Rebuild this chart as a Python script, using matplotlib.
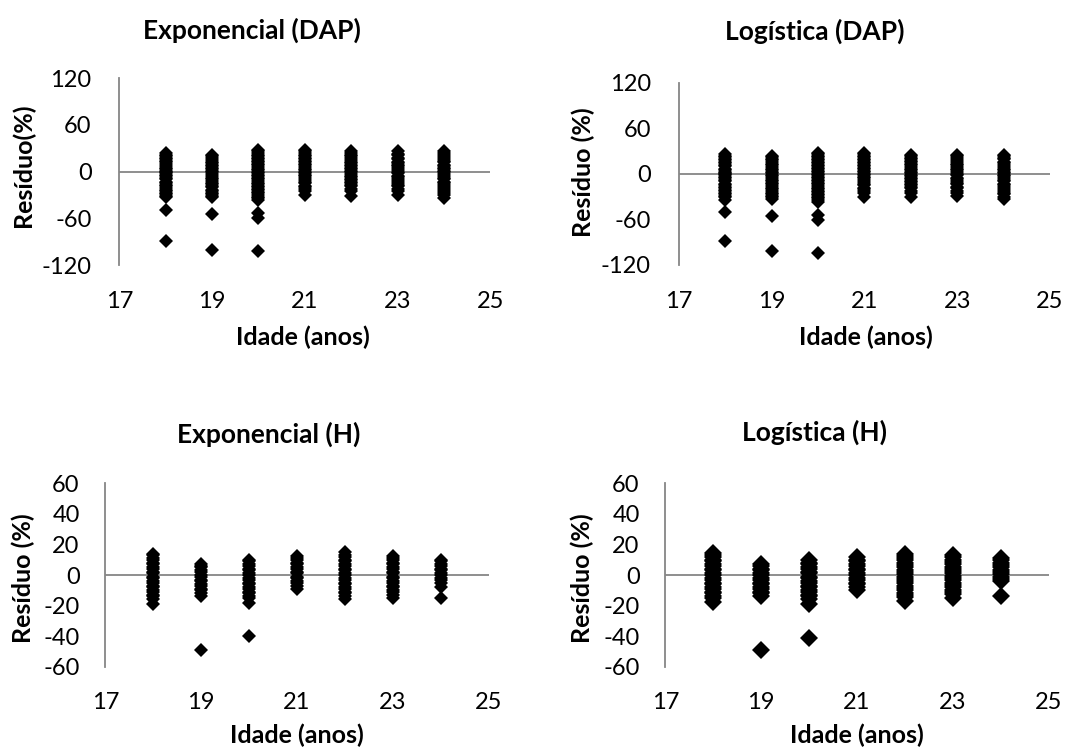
import matplotlib
matplotlib.use("Agg")
import matplotlib.pyplot as plt

plt.rcParams['font.family'] = ['Lato', 'DejaVu Sans']
plt.rcParams['axes.unicode_minus'] = False

ages = [18, 19, 20, 21, 22, 23, 24]

# residuals (%) per age
exp_dap = [
    [24, 22, 20, 18, 16, 14, 12, 10, 7, 5, 3, 1, 0, -2, -4, -6, -8, -10, -13, -15, -17, -19, -21, -23, -25, -27, -29, -31, -33, -49, -89],
    [22, 20, 18, 15, 13, 11, 9, 7, 5, 3, 1, -1, -3, -5, -8, -10, -12, -14, -16, -18, -20, -23, -25, -27, -29, -31, -33, -55, -101],
    [28, 26, 24, 22, 20, 18, 16, 14, 12, 10, 8, 6, 4, 2, 0, -2, -4, -6, -8, -10, -12, -14, -16, -18, -20, -22, -24, -26, -28, -30, -32, -34, -37, -53, -59, -102],
    [28, 26, 24, 22, 20, 18, 16, 14, 12, 10, 8, 6, 4, 2, 0, -2, -4, -6, -8, -11, -13, -15, -18, -20, -22, -25, -30],
    [26, 24, 22, 20, 17, 15, 13, 11, 9, 7, 5, 3, 1, -1, -3, -5, -7, -9, -11, -13, -15, -17, -19, -22, -25, -31],
    [26, 23, 21, 18, 16, 13, 11, 9, 7, 5, 2, 0, -2, -5, -7, -9, -12, -14, -17, -19, -22, -25, -30],
    [26, 24, 21, 19, 16, 14, 12, 9, 7, 5, 3, 1, -1, -3, -6, -8, -10, -13, -15, -17, -20, -22, -25, -27, -30, -34],
]

log_dap = [
    [26, 24, 22, 20, 18, 16, 14, 12, 10, 7, 5, 3, 1, 0, -2, -4, -6, -8, -10, -13, -15, -17, -19, -21, -23, -25, -27, -29, -31, -34, -50, -88],
    [24, 22, 20, 18, 15, 13, 11, 9, 7, 5, 3, 1, -1, -3, -5, -8, -10, -12, -14, -16, -18, -20, -23, -25, -27, -29, -31, -33, -55, -102],
    [28, 26, 24, 22, 20, 18, 16, 14, 12, 10, 8, 6, 4, 2, 0, -2, -4, -6, -8, -10, -12, -14, -16, -18, -20, -22, -24, -26, -28, -30, -32, -34, -37, -54, -61, -104],
    [28, 26, 24, 22, 20, 18, 16, 14, 12, 10, 8, 6, 4, 2, 0, -2, -4, -6, -8, -11, -13, -15, -18, -20, -22, -25, -30],
    [25, 23, 21, 19, 17, 15, 13, 11, 9, 7, 5, 3, 1, -1, -3, -5, -7, -9, -11, -13, -15, -17, -19, -22, -25, -31],
    [25, 23, 21, 18, 16, 13, 11, 9, 7, 5, 2, 0, -2, -5, -7, -9, -12, -14, -17, -19, -22, -25, -29],
    [25, 23, 21, 19, 16, 14, 12, 9, 7, 5, 3, 1, -1, -3, -6, -8, -10, -13, -15, -17, -20, -22, -25, -27, -30, -33],
]

exp_h = [
    [14, 13, 11, 10, 8, 7, 5, 4, 2, 1, -1, -2, -4, -5, -7, -8, -10, -11, -13, -14, -16, -19],
    [7.5, 6, 5, 3, 2, 0, -1, -3, -4, -6, -7, -9, -10, -12, -14, -49],
    [10, 9, 7, 6, 4, 3, 1, 0, -2, -3, -5, -6, -8, -9, -11, -12, -14, -15, -18, -40],
    [12.5, 11, 10, 8, 7, 5, 4, 2, 1, -1, -2, -4, -5, -7, -9],
    [15, 13, 12, 10, 9, 7, 6, 4, 3, 1, 0, -2, -3, -5, -6, -8, -9, -11, -12, -14, -16],
    [12.5, 11, 10, 8, 7, 5, 4, 2, 1, -1, -2, -4, -5, -7, -8, -10, -11, -13, -15],
    [10, 9, 7, 6, 4, 3, 1, 0, -2, -3, -5, -8, -15],
]

log_h = [
    [14.5, 13, 12, 10, 9, 7, 6, 4, 3, 1, 0, -2, -3, -5, -6, -8, -9, -11, -12, -14, -15, -17.5],
    [7, 6, 4, 3, 1, 0, -2, -3, -5, -6, -8, -9, -11, -12, -14, -49],
    [9.5, 8, 7, 5, 4, 2, 1, -1, -2, -4, -5, -7, -8, -10, -11, -13, -14, -16, -19, -41],
    [11.5, 10, 9, 7, 6, 4, 3, 1, 0, -2, -3, -5, -6, -8, -10],
    [14, 12.5, 11, 9.5, 8, 6.5, 5, 3.5, 2, 0.5, -1, -2.5, -4, -5.5, -7, -8.5, -10, -11.5, -13, -14.5, -17],
    [13, 11.5, 10, 8.5, 7, 5.5, 4, 2.5, 1, -0.5, -2, -3.5, -5, -6.5, -8, -9.5, -11, -12.5, -15],
    [11, 9.5, 8, 6.5, 5, 3.5, 2, 0.5, -1, -2.5, -4, -13.5],
]

W, H = 1067, 754
fig = plt.figure(figsize=(W / 100, H / 100), dpi=100)
gray = '#868686'


def px(x0, y0, x1, y1):
    return [x0 / W, 1 - y1 / H, (x1 - x0) / W, (y1 - y0) / H]


def panel(rect, data, ylim, yticks, ms, ypad):
    ax = fig.add_axes(px(*rect))
    for age, res in zip(ages, data):
        ax.plot([age] * len(res), res, 'D', color='black', ms=ms, mew=0,
                linestyle='none', clip_on=False)
    ax.set_xlim(17, 25)
    ax.set_ylim(*ylim)
    ax.set_xticks([17, 19, 21, 23, 25])
    ax.set_yticks(yticks)
    ax.axhline(0, color=gray, lw=1.3, zorder=0)
    for s in ['top', 'right', 'bottom']:
        ax.spines[s].set_visible(False)
    ax.spines['left'].set_color(gray)
    ax.spines['left'].set_linewidth(1.3)
    ax.tick_params(axis='both', length=0, labelsize=17, colors='black')
    ax.tick_params(axis='y', pad=ypad)
    ax.tick_params(axis='x', pad=18.5)
    ax.patch.set_alpha(0)
    return ax


panel((119.3, 78.3, 490.5, 265), exp_dap, (-120, 120), [-120, -60, 0, 60, 120], 7, 20)
panel((678.7, 82.7, 1050, 265), log_dap, (-120, 120), [-120, -60, 0, 60, 120], 7, 20)
panel((105.4, 483.3, 488.5, 666.7), exp_h, (-60, 60), [-60, -40, -20, 0, 20, 40, 60], 6.8, 18.5)
panel((665.4, 483.3, 1048.5, 666.7), log_h, (-60, 60), [-60, -40, -20, 0, 20, 40, 60], 9.2, 18.5)


def label(x, y, s, size, rot=0):
    fig.text(x / W, 1 - y / H, s, ha='center', va='center', fontsize=size,
             fontweight='bold', rotation=rot)


label(252, 30, 'Exponencial (DAP)', 19)
label(815, 31, 'Logística (DAP)', 19)
label(269, 434, 'Exponencial (H)', 19)
label(815, 432, 'Logística (H)', 19)

label(303, 337, 'Idade (anos)', 18)
label(866, 337, 'Idade (anos)', 18)
label(297, 735, 'Idade (anos)', 18)
label(857, 735, 'Idade (anos)', 18)

label(23, 165, 'Resíduo(%)', 18, 90)
label(583, 172, 'Resíduo (%)', 18, 90)
label(23, 578, 'Resíduo (%)', 18, 90)
label(582, 578, 'Resíduo (%)', 18, 90)

fig.savefig('out.png', dpi=100)
